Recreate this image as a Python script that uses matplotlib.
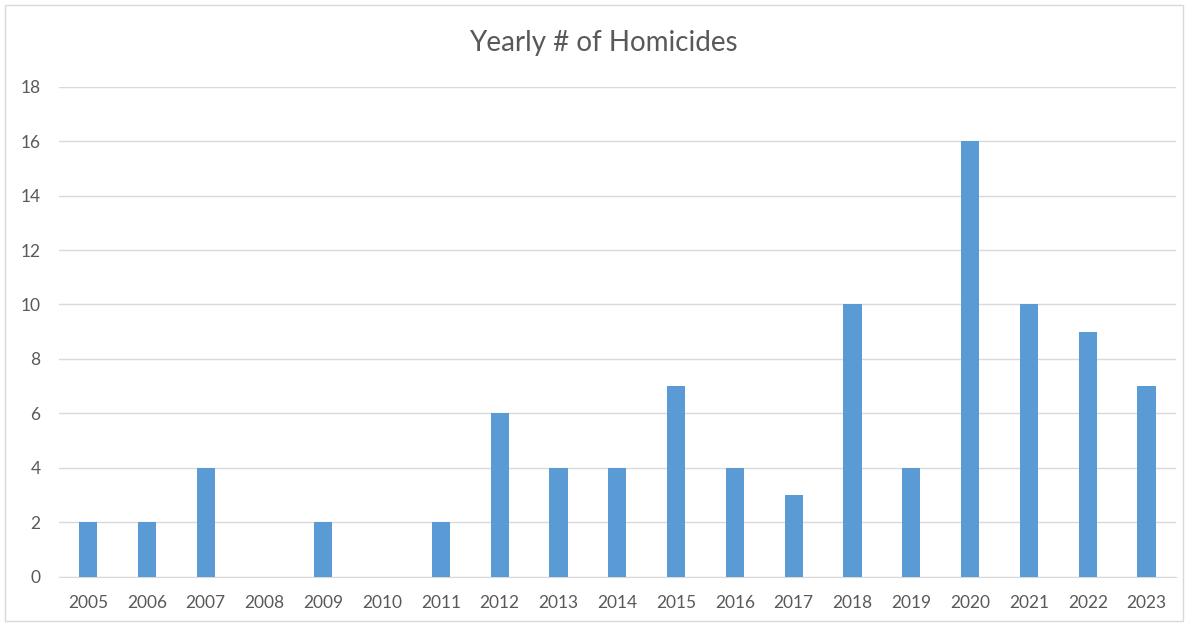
import matplotlib
matplotlib.use("Agg")
import matplotlib.pyplot as plt
from matplotlib.patches import Rectangle

years = ["2005", "2006", "2007", "2008", "2009", "2010", "2011", "2012", "2013", "2014",
         "2015", "2016", "2017", "2018", "2019", "2020", "2021", "2022", "2023"]
homicides = [2, 2, 4, 0, 2, 0, 2, 6, 4, 4, 7, 4, 3, 10, 4, 16, 10, 9, 7]
yticks = [0, 2, 4, 6, 8, 10, 12, 14, 16, 18]
title = "Yearly # of Homicides"

plt.rcParams['font.family'] = ['Lato', 'DejaVu Sans']
W, H = 1193, 625
fig = plt.figure(figsize=(W / 100, H / 100), dpi=100)
fig.patch.set_facecolor("white")

fig.patches.append(Rectangle((5 / W, 4 / H), (1183 - 5) / W, (620 - 4) / H,
                             transform=fig.transFigure, fill=False,
                             edgecolor="#D9D9D9", linewidth=1))

left, right, top, bottom = 58.6, 1176, 86.8, 576.5
ax = fig.add_axes([left / W, 1 - bottom / H, (right - left) / W, (bottom - top) / H])
x = range(len(years))
ax.bar(x, homicides, width=0.31, color="#5B9BD5", zorder=3)
ax.set_xlim(-0.5, len(years) - 0.5)
ax.set_ylim(0, 18)
ax.set_yticks(yticks)
ax.set_xticks(list(x))
ax.set_xticklabels(years)
ax.grid(axis="y", color="#D9D9D9", linewidth=1, zorder=0)
for s in ["top", "right", "left"]:
    ax.spines[s].set_visible(False)
ax.spines["bottom"].set_color("#D9D9D9")
ax.tick_params(axis="both", length=0, labelsize=12.5, colors="#595959")
ax.tick_params(axis="y", pad=13)
ax.tick_params(axis="x", pad=13.5)

fig.text(603 / W, 1 - 43 / H, title, ha="center", va="center", fontsize=20, color="#595959")

fig.savefig("out.png", dpi=100)
